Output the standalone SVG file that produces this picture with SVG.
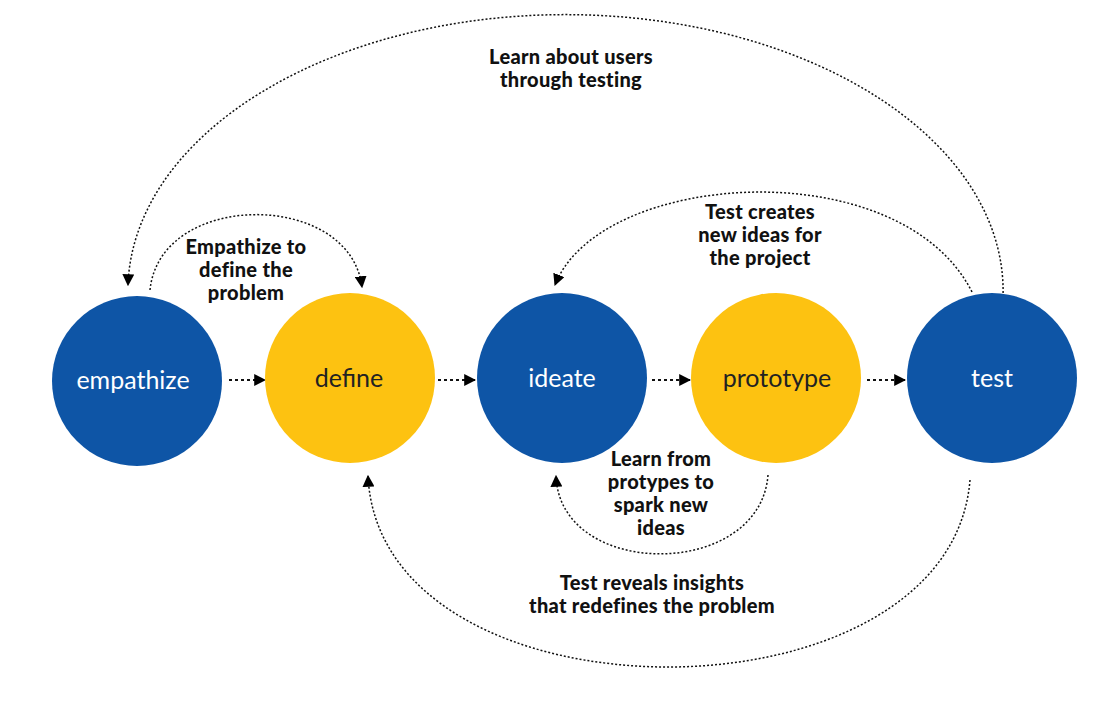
<svg xmlns="http://www.w3.org/2000/svg" width="1120" height="710" viewBox="0 0 1120 710">
<defs>
<marker id="ah" viewBox="0 0 10 10" refX="9" refY="5" markerWidth="12" markerHeight="12" markerUnits="userSpaceOnUse" orient="auto">
<path d="M0,0 L10,5 L0,10 Z" fill="#000"/>
</marker>
<style>
.blue{fill:#0E55A6}
.yellow{fill:#FDC211}
.nl{font-family:Lato,"Liberation Sans",sans-serif;font-size:25px;text-anchor:middle;dominant-baseline:central}
.w{fill:#fff}
.d{fill:#222}
.lbl{font-family:Lato,"Liberation Sans",sans-serif;font-size:20px;font-weight:900;text-anchor:middle;fill:#111;letter-spacing:0.3px}
.arc{fill:none;stroke:#111;stroke-width:1.5;stroke-dasharray:2 2;marker-end:url(#ah)}
.st{fill:none;stroke:#111;stroke-width:2;stroke-dasharray:3 3;marker-end:url(#ah)}
</style>
</defs>
<rect width="1120" height="710" fill="#fff"/>
<g id="connectors">
<path class="st" d="M229,380 L265,380"/>
<path class="st" d="M438,380 L475,380"/>
<path class="st" d="M652,380 L690,380"/>
<path class="st" d="M867,380 L905,380"/>
<path class="arc" d="M1003,297 A437 276 0 0 0 128,285"/>
<path class="arc" d="M150,290 C160,190 350,190 362,287"/>
<path class="arc" d="M972,292 C900,150 600,170 555,285"/>
<path class="arc" d="M768,475 C760,580 560,580 556,476"/>
<path class="arc" d="M970,480 C950,730 380,730 368,476"/>
</g>
<g id="empathize"><circle class="blue" cx="137" cy="381" r="85"/><text class="nl w" x="133" y="379">empathize</text></g>
<g id="define"><circle class="yellow" cx="350" cy="378" r="85"/><text class="nl d" x="349" y="377">define</text></g>
<g id="ideate"><circle class="blue" cx="562" cy="378" r="85"/><text class="nl w" x="562" y="377">ideate</text></g>
<g id="prototype"><circle class="yellow" cx="776" cy="378" r="85"/><text class="nl d" x="777" y="377">prototype</text></g>
<g id="test"><circle class="blue" cx="992" cy="378" r="85"/><text class="nl w" x="992" y="377">test</text></g>
<g id="labels">
<text class="lbl" x="571" y="64">Learn about users</text>
<text class="lbl" x="571" y="87">through testing</text>
<text class="lbl" x="246" y="254">Empathize to</text>
<text class="lbl" x="246" y="277">define the</text>
<text class="lbl" x="246" y="300">problem</text>
<text class="lbl" x="760" y="219">Test creates</text>
<text class="lbl" x="760" y="242">new ideas for</text>
<text class="lbl" x="760" y="265">the project</text>
<text class="lbl" x="661" y="466">Learn from</text>
<text class="lbl" x="661" y="489">protypes to</text>
<text class="lbl" x="661" y="512">spark new</text>
<text class="lbl" x="661" y="535">ideas</text>
<text class="lbl" x="652" y="590">Test reveals insights</text>
<text class="lbl" x="652" y="613">that redefines the problem</text>
</g>
</svg>
